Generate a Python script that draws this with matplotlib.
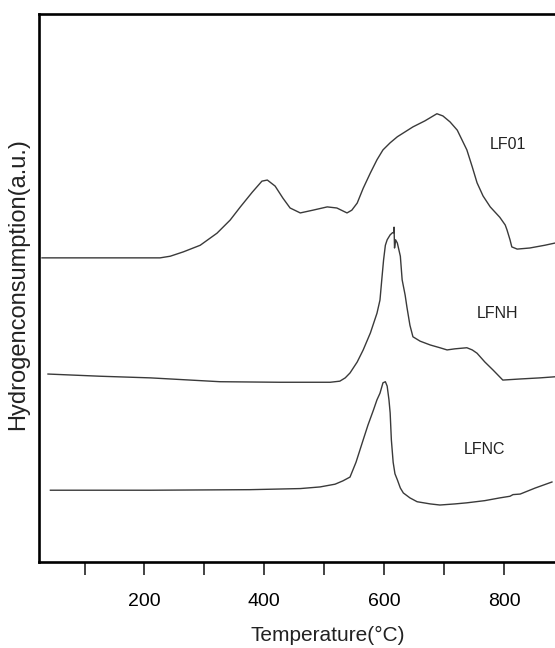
import numpy as np
import matplotlib
matplotlib.use("Agg")
from matplotlib import pyplot as plt
from matplotlib.ticker import MultipleLocator

# TPR profiles, temperature in deg C, signal in a.u.
lf01_t = [29, 126, 226, 243, 265, 293, 321, 343, 360, 380, 396, 405, 418, 431,
          443, 460, 481, 505, 521, 538, 546, 555, 565, 577, 588, 598, 610, 622,
          635, 648, 668, 688, 698, 710, 722, 730, 738, 747, 755, 765, 777, 793,
          802, 805, 810, 813, 822, 843, 868, 885]
lf01_y = [55.5, 55.5, 55.5, 55.8, 56.6, 57.8, 60.0, 62.4, 64.8, 67.5, 69.5, 69.7,
          68.6, 66.4, 64.6, 63.7, 64.2, 64.8, 64.6, 63.7, 64.2, 65.5, 68.2, 71.0,
          73.4, 75.2, 76.5, 77.6, 78.5, 79.4, 80.5, 81.8, 81.4, 80.3, 78.8, 77.0,
          75.2, 72.1, 69.2, 66.8, 64.8, 62.9, 61.5, 60.6, 58.8, 57.5, 57.1, 57.3,
          57.8, 58.2]

lfnh_t = [39, 126, 210, 326, 426, 510, 526, 535, 543, 555, 565, 577, 588, 593,
          596, 599, 602, 605, 610, 614, 616, 616.5, 617.3, 619, 622, 627, 630, 635,
          638, 643, 648, 660, 677, 693, 705, 718, 738, 747, 755, 768, 782, 798,
          827, 860, 885]
lfnh_y = [34.3, 33.9, 33.6, 32.9, 32.8, 32.8, 33.0, 33.6, 34.5, 36.5, 38.7, 41.8,
          45.4, 47.8, 51.5, 55.1, 57.8, 58.8, 59.7, 60.1, 60.1, 61.1, 57.3, 58.8,
          58.2, 55.8, 51.5, 48.7, 46.5, 43.2, 41.1, 40.3, 39.6, 39.1, 38.7, 38.9,
          39.1, 38.7, 38.1, 36.5, 35.0, 33.2, 33.4, 33.6, 33.8]

lfnc_t = [43, 210, 376, 460, 493, 518, 531, 543, 553, 565, 573, 582, 588, 593,
          598, 602, 605, 608, 610, 612, 615, 618, 622, 627, 632, 643, 655, 677,
          693, 718, 738, 768, 793, 810, 815, 827, 852, 880]
lfnc_y = [13.1, 13.1, 13.2, 13.4, 13.7, 14.2, 14.8, 15.5, 18.2, 22.3, 25.0, 27.7,
          29.6, 30.8, 32.7, 32.9, 32.1, 29.6, 27.2, 22.3, 18.2, 16.1, 15.0, 13.5,
          12.6, 11.7, 11.0, 10.6, 10.4, 10.6, 10.8, 11.2, 11.7, 12.0, 12.3, 12.4,
          13.5, 14.6]

curve_names = ["LF01", "LFNH", "LFNC"]
name_pos = [(806, 76.1), (789, 45.3), (767, 20.6)]

plt.rcParams['font.family'] = ['Liberation Sans', 'DejaVu Sans']

fig = plt.figure(figsize=(5.55, 6.48), dpi=100)
ax = fig.add_axes([0.0703, 0.1327, 0.935, 0.8457])

line_kw = dict(color='#3a3a3a', lw=1.0)
ax.plot(lf01_t, lf01_y, **line_kw)
ax.plot(lfnh_t, lfnh_y, **line_kw)
ax.plot(lfnc_t, lfnc_y, **line_kw)

for name, (tx, ty) in zip(curve_names, name_pos):
    ax.text(tx, ty, name, fontsize=11.5, ha='center', va='center', color='#222222')

ax.set_xlim(24, 890)
ax.set_ylim(0, 100)

ax.xaxis.set_major_locator(MultipleLocator(200))
ax.xaxis.set_minor_locator(MultipleLocator(100))
ax.tick_params(axis='x', which='both', direction='out', length=9, width=1.2,
               color='#222222')
ax.tick_params(axis='x', which='major', labelsize=14, pad=13)
ax.set_yticks([])

for sp in ax.spines.values():
    sp.set_linewidth(1.9)
    sp.set_color('black')

fig.text(0.591, 0.004, "Temperature(\u00b0C)", fontsize=15, ha='center',
         va='bottom', color='#222222')
fig.text(0.032, 0.562, "Hydrogenconsumption(a.u.)", fontsize=17, ha='center',
         va='center', rotation=90, color='#222222')

fig.savefig("out.png", dpi=100)
